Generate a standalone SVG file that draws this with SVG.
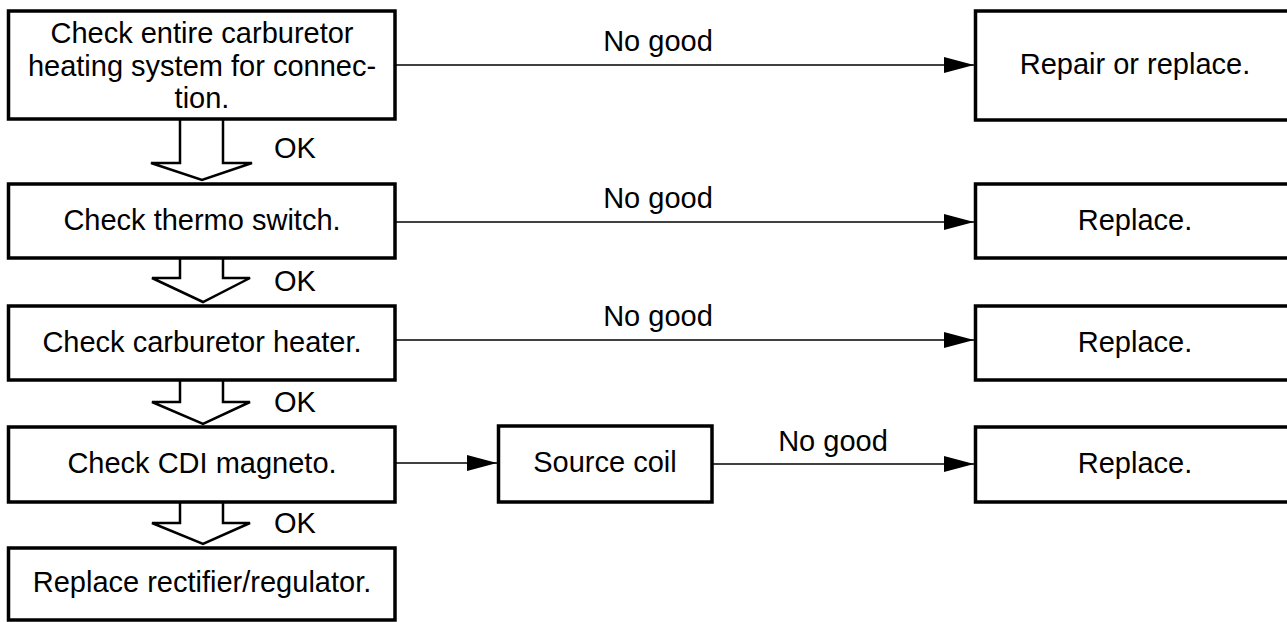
<svg xmlns="http://www.w3.org/2000/svg" width="1287" height="622" viewBox="0 0 1287 622">
<style>
.box{fill:#fff;stroke:#000;stroke-width:3.5}
.t{font-family:"Liberation Sans",Arial,sans-serif;font-size:29px;fill:#000;text-anchor:middle}
.ln{stroke:#000;stroke-width:1.5;fill:none}
.big{fill:#fff;stroke:#000;stroke-width:2.5;stroke-linejoin:miter}
</style>
<defs>
<marker id="ah" markerWidth="30" markerHeight="16" refX="30" refY="8" orient="auto" markerUnits="userSpaceOnUse">
<path d="M0,0 L30,8 L0,16 Z" fill="#000"/>
</marker>
</defs>
<rect width="1287" height="622" fill="#fff"/>
<g id="connectors">
<line class="ln" x1="396" y1="65" x2="974" y2="65" marker-end="url(#ah)"/>
<line class="ln" x1="396" y1="222" x2="974" y2="222" marker-end="url(#ah)"/>
<line class="ln" x1="396" y1="340" x2="974" y2="340" marker-end="url(#ah)"/>
<line class="ln" x1="396" y1="463" x2="497" y2="463" marker-end="url(#ah)"/>
<line class="ln" x1="713" y1="464" x2="974" y2="464" marker-end="url(#ah)"/>
<path class="big" d="M180,120 V163 H151 L202,180 L252,163 H223 V120"/>
<path class="big" d="M180,258 V278 H152 L203,302 L250,278 H223 V258"/>
<path class="big" d="M180,380 V402 H152 L203,424 L250,402 H223 V380"/>
<path class="big" d="M180,502 V523 H152 L203,544 L250,523 H223 V502"/>
<text class="t" x="658" y="51">No good</text>
<text class="t" x="658" y="208">No good</text>
<text class="t" x="658" y="326">No good</text>
<text class="t" x="833" y="451">No good</text>
<text class="t" x="295" y="158">OK</text>
<text class="t" x="295" y="291">OK</text>
<text class="t" x="295" y="412">OK</text>
<text class="t" x="295" y="533">OK</text>
</g>
<g id="n1">
<rect class="box" x="8.5" y="11" width="386.5" height="108"/>
<text class="t" x="202" y="43">Check entire carburetor</text>
<text class="t" x="202" y="76">heating system for connec-</text>
<text class="t" x="202" y="108">tion.</text>
</g>
<g id="n2">
<rect class="box" x="8.5" y="184" width="386.5" height="74"/>
<text class="t" x="202" y="230">Check thermo switch.</text>
</g>
<g id="n3">
<rect class="box" x="8.5" y="306" width="386.5" height="74"/>
<text class="t" x="202" y="352">Check carburetor heater.</text>
</g>
<g id="n4">
<rect class="box" x="8.5" y="427" width="386.5" height="75"/>
<text class="t" x="202" y="473">Check CDI magneto.</text>
</g>
<g id="n5">
<rect class="box" x="8.5" y="548" width="386.5" height="72"/>
<text class="t" x="202" y="592">Replace rectifier/regulator.</text>
</g>
<g id="n6">
<rect class="box" x="498.5" y="426" width="213.5" height="76"/>
<text class="t" x="605" y="472">Source coil</text>
</g>
<g id="r1">
<rect class="box" x="975.5" y="11" width="330" height="109"/>
<text class="t" x="1135" y="74">Repair or replace.</text>
</g>
<g id="r2">
<rect class="box" x="975.5" y="184" width="330" height="74"/>
<text class="t" x="1135" y="230">Replace.</text>
</g>
<g id="r3">
<rect class="box" x="975.5" y="306" width="330" height="74"/>
<text class="t" x="1135" y="352">Replace.</text>
</g>
<g id="r4">
<rect class="box" x="975.5" y="427" width="330" height="75"/>
<text class="t" x="1135" y="473">Replace.</text>
</g>
</svg>
